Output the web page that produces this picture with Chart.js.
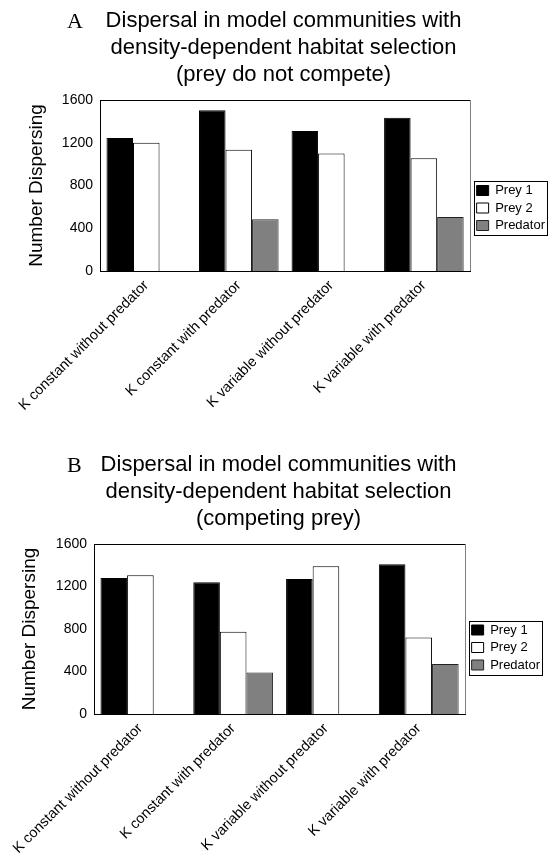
<!DOCTYPE html>
<html><head><meta charset="utf-8">
<script src="https://cdn.jsdelivr.net/npm/chart.js@4.4.0/dist/chart.umd.min.js"></script>
<style>
html,body{margin:0;padding:0;background:#fff;overflow:hidden;}
#wrapA{position:absolute;left:0;top:0;width:559px;height:440px;}
#wrapB{position:absolute;left:0;top:444px;width:559px;height:417px;}
</style></head><body>
<div id="wrapA"><canvas id="chartA" width="559" height="440"></canvas></div>
<div id="wrapB"><canvas id="chartB" width="559" height="417"></canvas></div>
<script>
const categories = ['K constant without predator', 'K constant with predator', 'K variable without predator', 'K variable with predator'];
const seriesNames = ['Prey 1', 'Prey 2', 'Predator'];
const yTickValues = [0, 400, 800, 1200, 1600];
const titleA = ['Dispersal in model communities with', 'density-dependent habitat selection', '(prey do not compete)'];
const titleB = ['Dispersal in model communities with', 'density-dependent habitat selection', '(competing prey)'];
const yAxisTitle = 'Number Dispersing';

// Panel A: prey do not compete
const prey1A = [1245, 1505, 1310, 1435];
const prey2A = [1200, 1135, 1100, 1055];
const predatorA = [null, 485, null, 505];
// Panel B: competing prey
const prey1B = [1280, 1240, 1270, 1410];
const prey2B = [1305, 775, 1390, 720];
const predatorB = [null, 390, null, 470];

const FONT = '"Liberation Sans", Arial, sans-serif';

const panelDecor = {
  id: 'panelDecor',
  afterLayout(chart, args, opts) {
    const lg = chart.legend;
    if (lg) { lg.top += opts.legendDy; lg.bottom += opts.legendDy; lg.left += opts.legendDx; lg.right += opts.legendDx; }
  },
  afterDraw(chart, args, opts) {
    const ctx = chart.ctx;
    const a = chart.chartArea;
    ctx.save();
    ctx.lineWidth = 1;
    ctx.strokeStyle = '#000';
    ctx.beginPath(); ctx.moveTo(a.left, Math.round(a.top) + 0.5); ctx.lineTo(a.right, Math.round(a.top) + 0.5); ctx.stroke();
    ctx.strokeStyle = '#808080';
    ctx.beginPath(); ctx.moveTo(Math.round(a.right) + 0.5, a.top); ctx.lineTo(Math.round(a.right) + 0.5, a.bottom); ctx.stroke();
    const hb = chart.legend && chart.legend.legendHitBoxes;
    if (hb && hb.length) {
      let l = Infinity, t = Infinity, r = -Infinity, b = -Infinity;
      hb.forEach(h => { l = Math.min(l, h.left); t = Math.min(t, h.top); r = Math.max(r, h.left + h.width); b = Math.max(b, h.top + h.height); });
      ctx.strokeStyle = '#000';
      ctx.strokeRect(Math.round(l - 3) + 0.5, Math.round(t - 3) + 0.5, Math.round(r - l + 5), Math.round(b - t + 6));
    }
    ctx.fillStyle = '#000';
    ctx.font = '22px "Liberation Serif", "Times New Roman", serif';
    ctx.textBaseline = 'alphabetic';
    ctx.textAlign = 'left';
    ctx.fillText(opts.letter, opts.letterX, opts.letterY);
    ctx.restore();
  }
};

function makeChart(id, letter, titleLines, p1, p2, p3, g) {
  return new Chart(document.getElementById(id), {
    type: 'bar',
    data: {
      labels: categories,
      datasets: [
        { label: seriesNames[0], data: p1, backgroundColor: '#000000', borderColor: '#000000', borderWidth: 1 },
        { label: seriesNames[1], data: p2, backgroundColor: '#ffffff', borderColor: '#000000', borderWidth: 1 },
        { label: seriesNames[2], data: p3, backgroundColor: '#808080', borderColor: '#222222', borderWidth: 1 }
      ]
    },
    plugins: [panelDecor],
    options: {
      responsive: false,
      animation: false,
      events: [],
      layout: { padding: { left: g.padLeft, right: g.padRight, top: 0, bottom: 0 } },
      datasets: { bar: { categoryPercentage: 0.86, barPercentage: 1.0, borderSkipped: 'start' } },
      scales: {
        x: {
          grid: { display: false, drawTicks: false },
          border: { display: true, color: '#000', width: 1 },
          ticks: { color: '#000', font: { family: FONT, size: 14.5 }, minRotation: 45, maxRotation: 45, autoSkip: false, padding: 6 },
          afterFit(s) { s.height = g.xHeight; s.paddingLeft = 0; s.paddingRight = 0; }
        },
        y: {
          min: 0, max: 1600,
          grid: { display: false, drawTicks: false },
          border: { display: true, color: '#000', width: 1 },
          afterBuildTicks(s) { s.ticks = yTickValues.map(v => ({ value: v })); },
          ticks: { color: '#000', font: { family: FONT, size: 14 }, padding: 7, callback: v => String(v) },
          title: { display: true, text: yAxisTitle, color: '#000', font: { family: FONT, size: 19 }, padding: { top: g.yTitlePad, bottom: 0 } },
          afterFit(s) { s.width = g.yWidth; }
        }
      },
      plugins: {
        title: { display: true, text: titleLines, color: '#000', font: { family: FONT, size: 22, weight: 'normal', lineHeight: 27 / 22 }, padding: { top: g.titleTop, bottom: g.titleBottom } },
        legend: {
          display: true, position: 'right', align: 'center',
          labels: { color: '#000', font: { family: FONT, size: 13, lineHeight: 1 }, boxWidth: 12, boxHeight: 10, padding: 4.5 }
        },
        tooltip: { enabled: false },
        panelDecor: { letter: letter, letterX: g.letterX, letterY: g.letterY, legendDx: g.legendDx, legendDy: g.legendDy }
      }
    }
  });
}

makeChart('chartA', 'A', titleA, prey1A, prey2A, predatorA,
  { padLeft: 14, yWidth: 86, yTitlePad: 11, padRight: 6, xHeight: 169, titleTop: 7, titleBottom: 12, letterX: 67, letterY: 28, legendDx: 2, legendDy: -12 });
makeChart('chartB', 'B', titleB, prey1B, prey2B, predatorB,
  { padLeft: 9, yWidth: 85, yTitlePad: 9, padRight: 11, xHeight: 147, titleTop: 7, titleBottom: 12, letterX: 67, letterY: 28, legendDx: 2, legendDy: -5 });
</script>
</body></html>
